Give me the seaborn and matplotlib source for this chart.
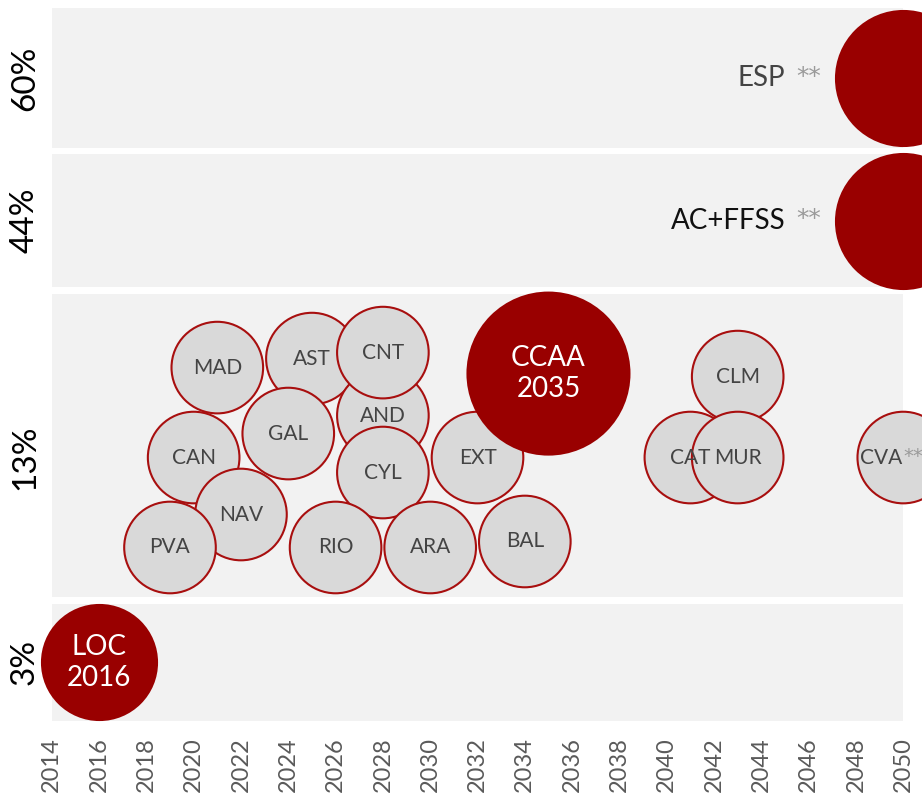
import pandas as pd
import matplotlib.pyplot as plt
import seaborn as sns

# --- data --------------------------------------------------------------
names = ["ESP", "AC+FFSS", "CAN", "NAV", "PVA", "MAD", "AST", "GAL", "AND", "CNT",
         "CYL", "RIO", "ARA", "EXT", "CCAA", "BAL", "CLM", "CAT", "MUR", "CVA", "LOC"]
target_year = [2050, 2050, 2020, 2022, 2019, 2021, 2025, 2024, 2028, 2028,
               2028, 2026, 2030, 2032, 2035, 2034, 2043, 2041, 2043, 2050, 2016]
share_group = [60, 44, 13, 13, 13, 13, 13, 13, 13, 13,
               13, 13, 13, 13, 13, 13, 13, 13, 13, 13, 3]
swarm_y = [60, 44, 13.0, 11.1, 10.0, 16.0, 16.3, 13.8, 14.4, 16.5,
           12.5, 10.0, 10.0, 13.0, 15.8, 10.2, 15.7, 13.0, 13.0, 13.0, 3]
level = ["national", "national", "region", "region", "region", "region", "region",
         "region", "region", "region", "region", "region", "region", "region",
         "regional", "region", "region", "region", "region", "region", "local"]
starred = ["ESP", "AC+FFSS", "CVA"]

groups = [60, 44, 13, 3]
year_ticks = list(range(2014, 2051, 2))

df = pd.DataFrame({"name": names, "year": target_year, "group": share_group,
                   "y": swarm_y, "level": level})

# --- styling ------------------------------------------------------------
RED = "#990000"
FILL = {"region": "#d9d9d9", "regional": RED, "local": RED, "national": RED}
EDGE = {"region": "#a80f0f", "regional": RED, "local": RED, "national": RED}
SIZES = {"region": 4350, "regional": 13600, "local": 6860, "national": 9450}
YLIMS = {60: (57.68, 62.32), 44: (41.79, 46.21), 13: (8.34, 18.47), 3: (1.05, 4.95)}
STAR_FONT = ["DejaVu Sans"]

sns.set_theme(style="white")
plt.rcParams["font.family"] = ["Lato", "DejaVu Sans"]

fig, axes = plt.subplots(
    4, 1, figsize=(9.22, 7.98), dpi=100, sharex=True,
    gridspec_kw={"height_ratios": [139.4, 132.4, 303.7, 116.7], "hspace": 0.0387},
)
fig.subplots_adjust(left=0.0561, right=0.9797, top=0.9896, bottom=0.0969)

for ax, g in zip(axes, groups):
    sub = df[df["group"] == g]
    sns.scatterplot(
        data=sub, x="year", y="y", hue="level", palette=FILL,
        size="level", sizes=SIZES, edgecolor=[EDGE[k] for k in sub["level"]],
        linewidth=1.5, legend=False, ax=ax, clip_on=False,
    )
    ax.set_facecolor("#f2f2f2")
    for s in ax.spines.values():
        s.set_visible(False)
    ax.set_ylim(*YLIMS[g])
    ax.set_yticks([g])
    ax.set_yticklabels([f"{g}%"], rotation=90, va="center", fontsize=24, color="black")
    ax.tick_params(axis="y", length=0, pad=8.5)
    ax.tick_params(axis="x", length=0)
    ax.set_xlabel("")
    ax.set_ylabel("")

    for _, r in sub.iterrows():
        if r["level"] == "region":
            if r["name"] in starred:
                ax.annotate(r["name"], (r["year"], r["y"]), xytext=(-1, 0),
                            textcoords="offset points", ha="right", va="center",
                            fontsize=15, color="#444444")
                ax.annotate("**", (r["year"], r["y"]), xytext=(0, 1),
                            textcoords="offset points", ha="left", va="center",
                            fontsize=14, color="#9a9a9a", family=STAR_FONT)
            else:
                ax.text(r["year"], r["y"], r["name"], ha="center", va="center",
                        fontsize=15, color="#444444")
        elif r["level"] == "national":
            ax.annotate(r["name"], (r["year"], r["y"]), xytext=(-85, 0),
                        textcoords="offset points", ha="right", va="center",
                        fontsize=20, color="#444444" if r["name"] == "ESP" else "#111111")
            ax.annotate("**", (r["year"], r["y"]), xytext=(-59, 1),
                        textcoords="offset points", ha="right", va="center",
                        fontsize=18, color="#9a9a9a", family=STAR_FONT)
        else:
            ax.text(r["year"], r["y"], f"{r['name']}\n{r['year']}", ha="center",
                    va="center", fontsize=20, color="white", linespacing=1.25)

bottom = axes[-1]
bottom.set_xlim(2014, 2050)
bottom.set_xticks(year_ticks)
bottom.set_xticklabels([str(y) for y in year_ticks], rotation=90, fontsize=17,
                       color="#5a5a5a")
bottom.tick_params(axis="x", length=0, pad=12)

fig.savefig("out.png", dpi=100)
